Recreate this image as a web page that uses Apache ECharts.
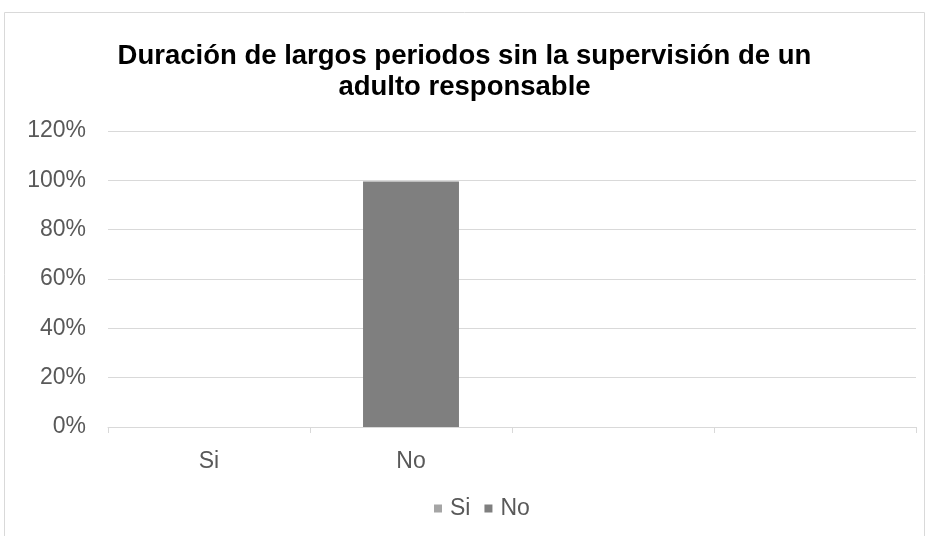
<!DOCTYPE html>
<html><head><meta charset="utf-8">
<script src="https://cdn.jsdelivr.net/npm/echarts@6/dist/echarts.min.js"></script>
<style>html,body{margin:0;padding:0;background:#fff}#c{width:929px;height:536px}</style>
</head><body><div id="c"></div>
<script>
var categories = ['Si', 'No', '', ''];
var seriesNames = ['Si', 'No'];
var siValues = [0, null, null, null];
var noValues = [null, 99.5, null, null];
var yTicks = [0, 20, 40, 60, 80, 100, 120];
var titleText = 'Duración de largos periodos sin la supervisión de un\nadulto responsable';

var chart = echarts.init(document.getElementById('c'));
chart.setOption({
  backgroundColor: '#fff',
  animation: false,
  graphic: [{type:'rect', shape:{x:4.5,y:12.5,width:920,height:540}, style:{fill:'none', stroke:'#d9d9d9', lineWidth:1}}],
  title: {
    text: titleText, left: 'center', top: 36,
    textStyle: {fontFamily: 'Liberation Sans, Arial', fontSize: 27.5, fontWeight: 'bold', color: '#000', lineHeight: 31}
  },
  legend: {
    data: seriesNames, top: 492, left: 429, itemWidth: 8, itemHeight: 8, itemGap: 14,
    icon: 'rect',
    textStyle: {fontFamily: 'Liberation Sans, Arial', fontSize: 23, color: '#595959', padding: [0,0,0,3]}
  },
  grid: {left: 108, right: 13, top: 131, bottom: 109, containLabel: false},
  xAxis: {
    type: 'category', data: categories,
    axisLine: {lineStyle: {color: '#d9d9d9'}},
    axisTick: {show: true, alignWithLabel: false, length: 6, lineStyle: {color: '#d9d9d9'}},
    axisLabel: {fontFamily: 'Liberation Sans, Arial', fontSize: 23, color: '#595959', margin: 23}
  },
  yAxis: {
    type: 'value', min: 0, max: 120, interval: 20,
    axisLine: {show: false}, axisTick: {show: false},
    splitLine: {lineStyle: {color: '#d9d9d9'}},
    axisLabel: {fontFamily: 'Liberation Sans, Arial', fontSize: 23, color: '#595959', margin: 22,
      formatter: function(v){ return yTicks.indexOf(v) >= 0 ? v + '%' : ''; }}
  },
  series: [
    {name: seriesNames[0], type: 'bar', stack: 's', data: siValues, barWidth: '47.5%', itemStyle: {color: '#a5a5a5'}},
    {name: seriesNames[1], type: 'bar', stack: 's', data: noValues, barWidth: '47.5%', itemStyle: {color: '#7f7f7f'}}
  ]
});
</script></body></html>
